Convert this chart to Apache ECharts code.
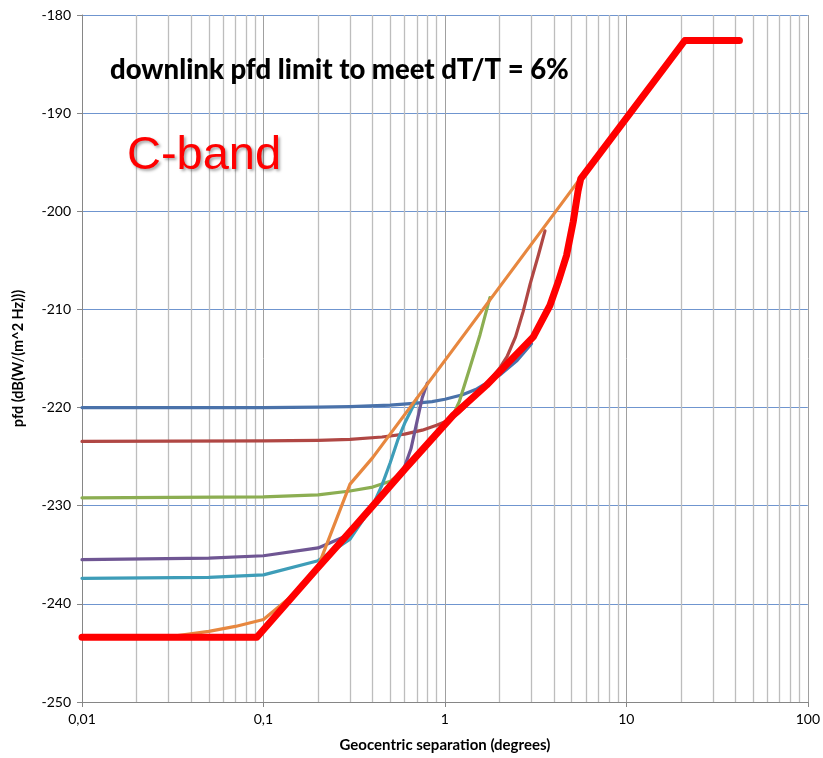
<!DOCTYPE html>
<html>
<head>
<meta charset="utf-8">
<script src="https://cdn.jsdelivr.net/npm/echarts@6/dist/echarts.min.js"></script>
<style>
  html, body { margin: 0; padding: 0; background: #fff; }
  #chart { width: 823px; height: 758px; }
</style>
</head>
<body>
<div id="chart"></div>
<script>
// ---- data (x = geocentric separation in degrees, y = pfd in dB(W/(m^2 Hz))) ----
const xTickLabels = ['0,01', '0,1', '1', '10', '100'];
const yMin = -250, yMax = -180, yStep = 10;

const blueSeries = [[0.01,-220.0],[0.1,-220.0],[0.2,-219.95],[0.3,-219.9],[0.5,-219.75],[0.7,-219.55],[0.85,-219.4],[1,-219.15],[1.25,-218.7],[1.5,-218.1],[2,-216.7],[2.5,-215.2],[3,-213.5]];
const brownSeries = [[0.01,-223.45],[0.1,-223.4],[0.2,-223.35],[0.3,-223.25],[0.45,-223.0],[0.6,-222.7],[0.75,-222.3],[0.9,-221.8],[1.05,-221.3],[1.2,-220.5],[1.5,-218.7],[1.75,-217.3],[2.0,-216.0],[2.2,-214.8],[2.45,-212.8],[2.7,-210.2],[2.95,-207.4],[3.27,-204.5],[3.56,-202.0]];
const greenSeries = [[0.01,-229.2],[0.1,-229.1],[0.2,-228.9],[0.3,-228.5],[0.4,-228.1],[0.5,-227.5],[0.6,-226.4],[0.8,-223.9],[1.0,-221.9],[1.1,-220.9],[1.2,-219.4],[1.37,-216.0],[1.56,-212.6],[1.77,-208.8]];
const purpleSeries = [[0.01,-235.5],[0.05,-235.35],[0.1,-235.1],[0.2,-234.3],[0.3,-232.9],[0.4,-230.1],[0.5,-228.0],[0.55,-227.2],[0.6,-226.0],[0.65,-224.2],[0.7,-221.5],[0.75,-219.0],[0.8,-217.5]];
const tealSeries = [[0.01,-237.4],[0.05,-237.3],[0.1,-237.05],[0.2,-235.6],[0.3,-233.4],[0.4,-230.0],[0.45,-227.9],[0.5,-225.6],[0.55,-223.3],[0.6,-221.6],[0.7,-219.1]];
const orangeSeries = [[0.01,-243.4],[0.03,-243.35],[0.05,-242.8],[0.07,-242.3],[0.1,-241.6],[0.15,-238.9],[0.2,-236.2],[0.3,-227.8],[0.4,-225.1],[5.6,-196.6]];
const limitSeries = [[0.01,-243.4],[0.092,-243.4],[0.2,-236.3],[0.326,-231.9],[0.6,-226.3],[1.11,-220.8],[1.7,-217.7],[3.07,-212.8],[3.79,-209.6],[4.21,-207.2],[4.68,-204.5],[5.09,-201.1],[5.42,-197.9],[5.6,-196.7],[21,-182.6],[42,-182.6]];

const decades = [0.01, 0.1, 1, 10];
const minorMultipliers = [2, 3, 4, 5, 6, 7, 8, 9];

const titleText = 'downlink pfd limit to meet dT/T = 6%';
const bandText = 'C-band';
const xAxisTitle = 'Geocentric separation (degrees)';
const yAxisTitle = 'pfd (dB(W/(m^2 Hz)))';

// ---- build ----
const minorXs = [];
decades.forEach(d => minorMultipliers.forEach(m => minorXs.push(+(d * m).toPrecision(6))));

const font = 'Lato, "Noto Sans", sans-serif';

function lineSeries(name, data, color, width, z) {
  return {
    name, type: 'line', data, showSymbol: false, symbol: 'none', z: z,
    lineStyle: { color, width, cap: 'round', join: 'round' },
    animation: false, silent: true
  };
}

const chart = echarts.init(document.getElementById('chart'), null, { renderer: 'canvas' });
chart.setOption({
  animation: false,
  backgroundColor: '#ffffff',
  grid: { left: 82, top: 15, right: 15, bottom: 53, containLabel: false },
  title: [
    { text: titleText, left: 105, top: 51, padding: 5,
      textStyle: { fontFamily: font, fontWeight: 900, fontSize: 27.5, color: '#000' } },
    { text: bandText, left: 122, top: 128,
      textStyle: { fontFamily: '"Liberation Sans", Arial, sans-serif', fontWeight: 'normal', fontSize: 47, color: '#ff0000',
        textShadowColor: 'rgba(0,0,0,0.35)', textShadowBlur: 3, textShadowOffsetX: 2, textShadowOffsetY: 2 } }
  ],
  xAxis: {
    type: 'log', logBase: 10, min: 0.01, max: 100,
    name: xAxisTitle, nameLocation: 'middle', nameGap: 36,
    nameTextStyle: { fontFamily: font, fontWeight: 'bold', fontSize: 15, color: '#000' },
    axisLine: { show: true, lineStyle: { color: '#868686', width: 1 } },
    axisTick: { show: true, length: 5, lineStyle: { color: '#868686' } },
    axisLabel: { fontFamily: font, fontSize: 14, color: '#000', margin: 10,
      formatter: (v, i) => xTickLabels[i] },
    splitLine: { show: true, lineStyle: { color: '#a0a0a0', width: 1 } }
  },
  yAxis: {
    type: 'value', min: yMin, max: yMax, interval: yStep,
    name: yAxisTitle, nameLocation: 'middle', nameGap: 56, nameRotate: 90,
    nameTextStyle: { fontFamily: font, fontWeight: 'bold', fontSize: 14.5, color: '#000' },
    axisLine: { show: true, lineStyle: { color: '#868686', width: 1 } },
    axisTick: { show: true, length: 5, lineStyle: { color: '#868686' } },
    axisLabel: { fontFamily: font, fontSize: 14, color: '#000', margin: 11 },
    splitLine: { show: true, lineStyle: { color: '#6f95cf', width: 1.2 } }
  },
  series: [
    {
      name: 'minor-grid', type: 'line', data: [], silent: true, z: 1,
      markLine: {
        silent: true, symbol: 'none', z: 1, animation: false,
        label: { show: false },
        lineStyle: { color: '#bdbdbd', width: 1.3, type: 'solid' },
        emphasis: { disabled: true },
        data: minorXs.map(v => ({ xAxis: v }))
      }
    },
    lineSeries('blue', blueSeries, '#4a72aa', 3.2, 2),
    lineSeries('brown', brownSeries, '#b04744', 3.2, 2),
    lineSeries('green', greenSeries, '#8cae52', 3.2, 2),
    lineSeries('purple', purpleSeries, '#6f5693', 3.2, 2),
    lineSeries('teal', tealSeries, '#3e9db8', 3.2, 2),
    lineSeries('orange', orangeSeries, '#e7873f', 3.2, 2),
    lineSeries('limit', limitSeries, '#ff0000', 7, 3)
  ]
});
</script>
</body>
</html>
